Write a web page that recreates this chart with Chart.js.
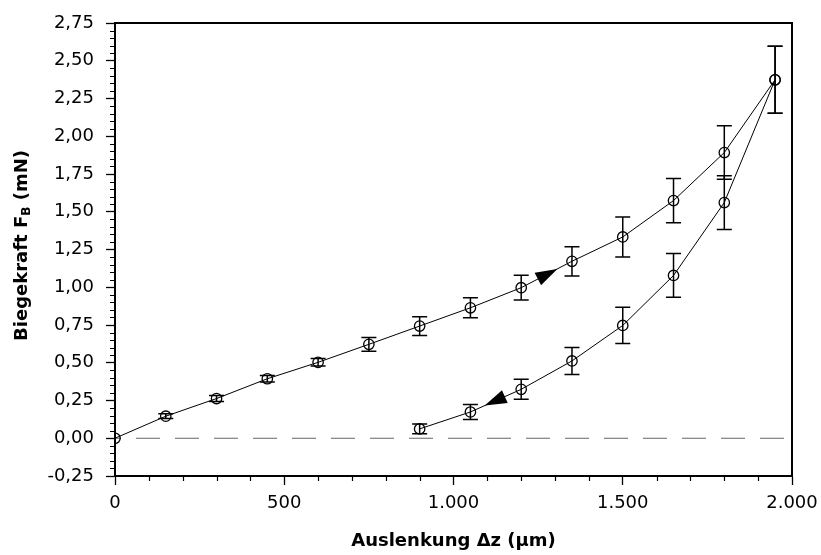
<!DOCTYPE html>
<html>
<head>
<meta charset="utf-8">
<script src="https://cdn.jsdelivr.net/npm/chart.js@4.4.1/dist/chart.umd.min.js"></script>
<style>
  html, body { margin: 0; padding: 0; background: #ffffff; }
  #wrap { width: 821px; height: 555px; }
</style>
</head>
<body>
<div id="wrap"><canvas id="chart" width="821" height="555"></canvas></div>
<script>
// Deflection (µm) and bending force (mN) while loading the beam
const deflectionLoading = [0, 150, 300, 450, 600, 750, 900, 1050, 1200, 1350, 1500, 1650, 1800, 1950];
const forceLoading      = [0, 0.146, 0.263, 0.394, 0.503, 0.622, 0.743, 0.864, 0.997, 1.172, 1.333, 1.574, 1.892, 2.374];
const errLoading        = [0, 0.016, 0.02, 0.022, 0.025, 0.046, 0.062, 0.066, 0.082, 0.097, 0.132, 0.147, 0.177, 0.222];

// ... and while unloading it again
const deflectionUnloading = [1950, 1800, 1650, 1500, 1350, 1200, 1050, 900];
const forceUnloading      = [2.374, 1.561, 1.078, 0.747, 0.512, 0.324, 0.174, 0.062];
const errUnloading        = [0.222, 0.178, 0.145, 0.12, 0.089, 0.066, 0.049, 0.032];

// Axis ranges and tick steps
const xRange = [0, 2000];
const yRange = [-0.25, 2.75];
const xMajorStep = 500, xMinorStep = 100;
const yMajorStep = 0.25, yMinorStep = 0.05;

const FONT = '"DejaVu Sans", "Liberation Sans", Arial, sans-serif';

function fmtX(v) {
  const n = Math.round(v);
  if (n >= 1000) {
    const th = Math.floor(n / 1000);
    const rest = String(n % 1000).padStart(3, '0');
    return th + '.' + rest;
  }
  return String(n);
}
function fmtY(v) {
  return (Math.round(v * 100) / 100).toFixed(2).replace('.', ',');
}

const toPoints = (xs, ys) => xs.map((x, i) => ({ x: x, y: ys[i] }));

// Vertical error bars with caps, drawn underneath the curves
const errorBars = {
  id: 'errorBars',
  beforeDatasetsDraw(chart) {
    const { ctx, scales: { x, y } } = chart;
    const sets = [
      [deflectionLoading, forceLoading, errLoading],
      [deflectionUnloading, forceUnloading, errUnloading]
    ];
    ctx.save();
    ctx.strokeStyle = '#000';
    ctx.lineWidth = 1.5;
    const cap = 7.5;
    sets.forEach(([xs, ys, es]) => {
      xs.forEach((xv, i) => {
        if (!es[i]) return;
        const px = x.getPixelForValue(xv);
        const top = y.getPixelForValue(ys[i] + es[i]);
        const bot = y.getPixelForValue(ys[i] - es[i]);
        ctx.beginPath();
        ctx.moveTo(px, top); ctx.lineTo(px, bot);
        ctx.moveTo(px - cap, top); ctx.lineTo(px + cap, top);
        ctx.moveTo(px - cap, bot); ctx.lineTo(px + cap, bot);
        ctx.stroke();
      });
    });
    ctx.restore();
  }
};

// Direction arrows on the loading and unloading branches
const arrows = {
  id: 'arrows',
  afterDatasetsDraw(chart) {
    const { ctx, scales: { x, y } } = chart;
    const marks = [
      { xs: deflectionLoading, ys: forceLoading, from: 8, to: 9, t: 0.52 },
      { xs: deflectionUnloading, ys: forceUnloading, from: 5, to: 6, t: 0.52 }
    ];
    ctx.save();
    ctx.fillStyle = '#000';
    marks.forEach(m => {
      const x0 = x.getPixelForValue(m.xs[m.from]), y0 = y.getPixelForValue(m.ys[m.from]);
      const x1 = x.getPixelForValue(m.xs[m.to]),   y1 = y.getPixelForValue(m.ys[m.to]);
      const dx = x1 - x0, dy = y1 - y0, L = Math.hypot(dx, dy);
      const ux = dx / L, uy = dy / L;
      const cx = x0 + dx * m.t, cy = y0 + dy * m.t;
      const len = 22, hw = 7;
      const tipX = cx + ux * len / 2, tipY = cy + uy * len / 2;
      const bx = cx - ux * len / 2, by = cy - uy * len / 2;
      ctx.beginPath();
      ctx.moveTo(tipX, tipY);
      ctx.lineTo(bx - uy * hw, by + ux * hw);
      ctx.lineTo(bx + uy * hw, by - ux * hw);
      ctx.closePath();
      ctx.fill();
    });
    ctx.restore();
  }
};

// Plot frame, minor ticks and axis titles
const frameAndTitles = {
  id: 'frameAndTitles',
  afterDraw(chart) {
    const { ctx, chartArea: a, scales: { x, y } } = chart;
    ctx.save();
    ctx.strokeStyle = '#000';
    ctx.lineWidth = 2;
    ctx.strokeRect(a.left, a.top, a.right - a.left, a.bottom - a.top);

    ctx.lineWidth = 1.2;
    ctx.beginPath();
    for (let v = xRange[0]; v <= xRange[1] + 1e-6; v += xMinorStep) {
      if (Math.abs(v / xMajorStep - Math.round(v / xMajorStep)) < 1e-6) continue;
      const px = Math.round(x.getPixelForValue(v)) + 0.5;
      ctx.moveTo(px, a.bottom); ctx.lineTo(px, a.bottom + 5);
    }
    for (let k = 0; ; k++) {
      const v = yRange[0] + k * yMinorStep;
      if (v > yRange[1] + 1e-6) break;
      if (Math.abs(v / yMajorStep - Math.round(v / yMajorStep)) < 1e-6) continue;
      const py = Math.round(y.getPixelForValue(v)) + 0.5;
      ctx.moveTo(a.left - 5, py); ctx.lineTo(a.left, py);
    }
    ctx.stroke();

    ctx.fillStyle = '#000';
    ctx.font = 'bold 18px ' + FONT;
    ctx.textAlign = 'center';
    ctx.textBaseline = 'middle';
    ctx.fillText('Auslenkung \u0394z (\u00b5m)', (a.left + a.right) / 2, 541);

    // y title with subscript B
    const parts = [
      { t: 'Biegekraft F', f: 'bold 18px ' + FONT, dy: 0 },
      { t: 'B', f: 'bold 12px ' + FONT, dy: 5 },
      { t: ' (mN)', f: 'bold 18px ' + FONT, dy: 0 }
    ];
    let total = 0;
    parts.forEach(p => { ctx.font = p.f; p.w = ctx.measureText(p.t).width; total += p.w; });
    ctx.translate(22, (a.top + a.bottom) / 2 - 4);
    ctx.rotate(-Math.PI / 2);
    ctx.textAlign = 'left';
    let cx = -total / 2;
    parts.forEach(p => {
      ctx.font = p.f;
      ctx.fillText(p.t, cx, p.dy);
      cx += p.w;
    });
    ctx.restore();
  }
};

new Chart(document.getElementById('chart'), {
  type: 'scatter',
  data: {
    datasets: [
      {
        label: 'Belastung',
        data: toPoints(deflectionLoading, forceLoading),
        showLine: true,
        borderColor: '#000',
        borderWidth: 1,
        tension: 0,
        pointStyle: 'circle',
        pointRadius: 5.2,
        pointBorderWidth: 1.3,
        pointBorderColor: '#000',
        pointBackgroundColor: 'rgba(0,0,0,0)'
      },
      {
        label: 'Entlastung',
        data: toPoints(deflectionUnloading, forceUnloading),
        showLine: true,
        borderColor: '#000',
        borderWidth: 1,
        tension: 0,
        pointStyle: 'circle',
        pointRadius: 5.2,
        pointBorderWidth: 1.3,
        pointBorderColor: '#000',
        pointBackgroundColor: 'rgba(0,0,0,0)'
      },
      {
        label: 'Nulllinie',
        data: [{ x: xRange[0], y: 0 }, { x: xRange[1], y: 0 }],
        showLine: true,
        borderColor: '#666',
        borderWidth: 1.2,
        borderDash: [24, 15],
        borderDashOffset: 18,
        pointRadius: 0
      }
    ]
  },
  options: {
    responsive: false,
    animation: false,
    devicePixelRatio: 1,
    layout: { padding: { top: 23, right: 29, left: 0, bottom: 0 } },
    plugins: { legend: { display: false }, tooltip: { enabled: false } },
    scales: {
      x: {
        type: 'linear',
        min: xRange[0], max: xRange[1],
        afterFit(s) { s.height = 79; s.paddingRight = 0; s.paddingLeft = 0; },
        ticks: {
          stepSize: xMajorStep,
          color: '#000',
          padding: 8,
          maxRotation: 0,
          font: { family: FONT, size: 18 },
          callback: v => fmtX(v)
        },
        grid: { drawOnChartArea: false, drawTicks: true, tickLength: 9, tickColor: '#000', tickWidth: 1.3 },
        border: { display: true, color: '#000', width: 2 }
      },
      y: {
        type: 'linear',
        min: yRange[0], max: yRange[1],
        afterFit(s) { s.width = 115; s.paddingTop = 0; s.paddingBottom = 0; },
        ticks: {
          stepSize: yMajorStep,
          color: '#000',
          padding: 12,
          font: { family: FONT, size: 18 },
          callback: v => fmtY(v)
        },
        grid: { drawOnChartArea: false, drawTicks: true, tickLength: 9, tickColor: '#000', tickWidth: 1.3 },
        border: { display: true, color: '#000', width: 2 }
      }
    }
  },
  plugins: [errorBars, arrows, frameAndTitles]
});
</script>
</body>
</html>
